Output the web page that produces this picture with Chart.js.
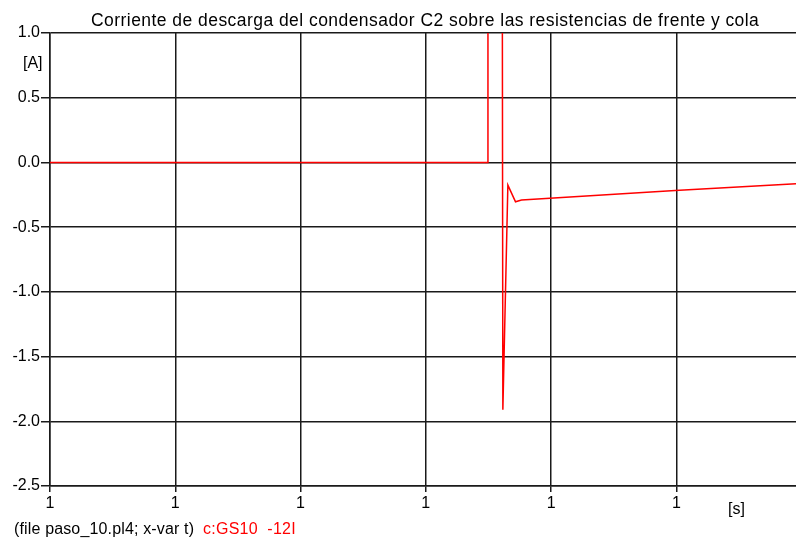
<!DOCTYPE html>
<html lang="es">
<head>
    <meta charset="UTF-8">
    <title>Corriente de descarga del condensador C2</title>
    <script src="https://cdn.jsdelivr.net/npm/chart.js"></script>
    <style>
        html, body {
            margin: 0;
            padding: 0;
            background: #ffffff;
        }
        canvas {
            display: block;
        }
    </style>
</head>
<body>
    <canvas id="descargaChart" width="796" height="540"></canvas>

    <script>
        // Tiempo (en divisiones del eje x) y corriente [A] de c:GS10 -12I
        const tiempo = [0, 3.496, 3.496, 3.607, 3.615, 3.655, 3.716, 3.764, 4.99, 5.955];
        const corriente = [0, 0, 4.0, 4.0, -1.91, -0.175, -0.304, -0.29, -0.216, -0.165];

        // Etiquetas de los ejes
        const etiquetasX = ['1', '1', '1', '1', '1', '1'];
        const etiquetasY = ['-2.5', '-2.0', '-1.5', '-1.0', '-0.5', '0.0', '0.5', '1.0'];

        const titulo = 'Corriente de descarga del condensador C2 sobre las resistencias de frente y cola';
        const fuente = 'Liberation Sans, Arial, sans-serif';

        // Escribe un texto ocupando un ancho dado, repartiendo el espacio entre letras
        function textoAncho(ctx, texto, x, y, ancho) {
            ctx.letterSpacing = '0px';
            const natural = ctx.measureText(texto).width;
            const extra = (ancho - natural) / texto.length;
            ctx.letterSpacing = extra.toFixed(2) + 'px';
            ctx.fillText(texto, x, y);
            ctx.letterSpacing = '0px';
        }

        // Textos fijos: titulo, unidades y pie
        const textosPlugin = {
            id: 'textos',
            afterDraw(chart) {
                const ctx = chart.ctx;
                ctx.save();
                ctx.textBaseline = 'alphabetic';
                ctx.textAlign = 'left';
                ctx.fillStyle = '#000';
                ctx.font = '17.5px ' + fuente;
                textoAncho(ctx, titulo, 91, 26, 668);

                ctx.font = '16px ' + fuente;
                ctx.fillText('[A]', 23, 68);
                ctx.fillText('[s]', 728, 514);

                ctx.font = '16px ' + fuente;
                textoAncho(ctx, '(file paso_10.pl4; x-var t)', 14, 534, 180);
                ctx.fillStyle = '#ff0000';
                textoAncho(ctx, 'c:GS10  -12I', 203, 534, 93);
                ctx.restore();
            }
        };

        document.addEventListener('DOMContentLoaded', () => {
            const puntos = tiempo.map((t, i) => ({ x: t, y: corriente[i] }));
            const ctx = document.getElementById('descargaChart').getContext('2d');

            new Chart(ctx, {
                type: 'line',
                data: {
                    datasets: [{
                        label: 'c:GS10 -12I',
                        data: puntos,
                        borderColor: '#ff0000',
                        borderWidth: 1.5,
                        pointRadius: 0,
                        tension: 0,
                        fill: false
                    }]
                },
                options: {
                    responsive: false,
                    animation: false,
                    layout: {
                        padding: { top: 33, left: 0, right: 0, bottom: 0 }
                    },
                    plugins: {
                        legend: { display: false },
                        title: { display: false },
                        tooltip: { enabled: false }
                    },
                    scales: {
                        x: {
                            type: 'linear',
                            min: 0,
                            max: 5.955,
                            afterFit(scale) { scale.height = 54; },
                            afterBuildTicks(scale) {
                                scale.ticks = etiquetasX.map((_, i) => ({ value: i }));
                            },
                            grid: {
                                color: '#1a1a1a',
                                lineWidth: 1.5,
                                tickLength: 6
                            },
                            border: { color: '#1a1a1a', width: 1.5 },
                            ticks: {
                                padding: 2,
                                maxRotation: 0,
                                autoSkip: false,
                                color: '#000',
                                font: { family: fuente, size: 16 },
                                callback: (v, i) => etiquetasX[i]
                            }
                        },
                        y: {
                            min: -2.5,
                            max: 1.0,
                            afterFit(scale) { scale.width = 50; },
                            afterBuildTicks(scale) {
                                scale.ticks = etiquetasY.map(l => ({ value: parseFloat(l) }));
                            },
                            grid: {
                                color: '#1a1a1a',
                                lineWidth: 1.5,
                                tickLength: 9
                            },
                            border: { color: '#1a1a1a', width: 1.5 },
                            ticks: {
                                padding: 1,
                                color: '#000',
                                font: { family: fuente, size: 16 },
                                callback: (v, i) => etiquetasY[i]
                            }
                        }
                    }
                },
                plugins: [textosPlugin]
            });
        });
    </script>
</body>
</html>
